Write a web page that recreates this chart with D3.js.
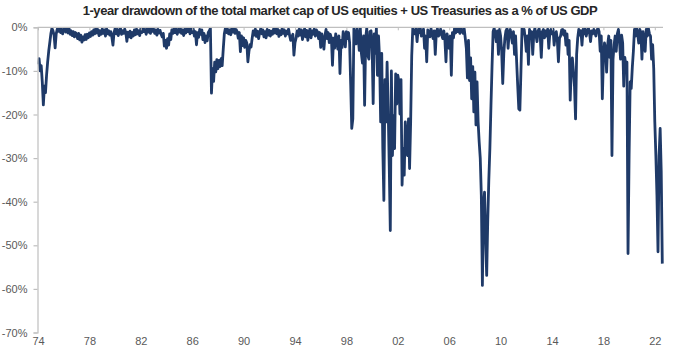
<!DOCTYPE html>
<html>
<head>
<meta charset="utf-8">
<script src="https://cdn.jsdelivr.net/npm/d3@7"></script>
<style>
  html, body { margin: 0; padding: 0; background: #ffffff; }
  svg { display: block; }
</style>
</head>
<body>
<svg id="chart" width="681" height="357"></svg>
<script>
// ---- Data ----
const title = "1-year drawdown of the total market cap of US equities + US Treasuries as a % of US GDP";

const yTickValues = [0, -10, -20, -30, -40, -50, -60, -70];
const xTickYears = [1974, 1978, 1982, 1986, 1990, 1994, 1998, 2002, 2006, 2010, 2014, 2018, 2022];
const xTickLabels = ["74", "78", "82", "86", "90", "94", "98", "02", "06", "10", "14", "18", "22"];

// monthly series, starting January 1974
const startYear = 1974;
const drawdown = [
  /*1974*/ -8.5, -7.2, -10.0, -8.8, -12.5, -17.8, -13.5, -15.0, -11.0, -8.0, -5.5, -3.5,
  /*1975*/ -1.5, -0.2, -0.8, -1.8, -4.7, -1.5, -0.4, -0.9, -0.2, -1.2, -0.4, -1.5,
  /*1976*/ -0.5, -0.2, -1.1, -0.4, -1.3, -0.3, -1.6, -0.8, -1.9, -1.0, -2.2, -1.2,
  /*1977*/ -1.5, -2.6, -1.4, -2.9, -1.8, -3.4, -2.2, -2.9, -1.7, -2.8, -1.6, -2.4,
  /*1978*/ -1.3, -2.1, -1.0, -1.8, -0.6, -1.5, -0.2, -1.3, -0.5, -1.9, -0.8, -1.6,
  /*1979*/ -0.4, -1.4, -0.6, -2.0, -0.3, -1.5, -0.8, -1.8, -1.0, -2.3, -4.1, -1.2,
  /*1980*/ -0.3, -1.5, -0.5, -1.9, -0.7, -0.2, -1.6, -0.8, -1.4, -0.4, -1.2, -3.2,
  /*1981*/ -1.1, -2.2, -0.9, -2.4, -1.2, -2.0, -0.6, -1.7, -0.4, -1.5, -0.8, -1.9,
  /*1982*/ -0.3, -1.2, -0.2, -1.0, -0.5, -1.6, -0.3, -1.1, -0.4, -1.4, -0.2, -0.9,
  /*1983*/ -0.4, -1.4, -0.6, -1.8, -0.5, -1.3, -0.7, -1.6, -2.2, -1.4, -4.3, -3.0,
  /*1984*/ -4.8, -2.6, -4.1, -1.5, -2.8, -0.6, -1.4, -0.3, -1.2, -0.4, -1.6, -0.5,
  /*1985*/ -1.1, -0.3, -1.4, -0.6, -1.9, -0.5, -1.3, -0.2, -1.0, -0.4, -1.5, -0.3,
  /*1986*/ -1.2, -0.4, -2.0, -1.0, -4.0, -1.2, -2.3, -0.5, -1.6, -0.6, -2.8, -1.4,
  /*1987*/ -3.5, -2.0, -3.1, -1.2, -0.8, -0.2, -15.1, -9.5, -12.4, -8.0, -10.2, -7.4,
  /*1988*/ -9.5, -7.6, -9.0, -7.2, -8.8, -5.0, -1.5, -0.2, -1.2, -0.4, -1.5, -0.6,
  /*1989*/ -1.7, -0.3, -1.1, -0.2, -1.4, -0.5, -1.0, -2.5, -1.2, -5.6, -2.0, -4.2,
  /*1990*/ -2.4, -4.6, -3.0, -3.6, -7.9, -5.5, -4.0, -4.5, -2.5, -0.8, -1.8, -0.4,
  /*1991*/ -2.1, -0.9, -2.6, -1.2, -0.3, -1.5, -0.6, -2.2, -1.0, -2.4, -0.5, -1.8,
  /*1992*/ -0.7, -2.0, -0.9, -1.6, -0.4, -1.3, -0.3, -1.5, -0.5, -2.1, -0.8, -1.7,
  /*1993*/ -0.3, -1.4, -0.6, -2.0, -0.9, -1.5, -0.4, -1.9, -3.0, -2.2, -1.6, -6.4,
  /*1994*/ -3.5, -2.5, -0.8, -2.0, -0.4, -1.8, -0.6, -2.8, -1.3, -0.3, -2.2, -0.7,
  /*1995*/ -3.0, -1.2, -0.3, -2.4, -0.8, -1.6, -0.4, -2.0, -0.6, -1.0, -2.6, -1.2,
  /*1996*/ -4.6, -1.5, -3.0, -5.0, -1.8, -0.5, -2.6, -1.2, -3.5, -1.6, -2.5, -8.7,
  /*1997*/ -2.5, -4.8, -1.5, -3.0, -5.0, -2.0, -10.6, -3.0, -4.6, -1.0, -2.2, -4.5,
  /*1998*/ -1.0, -2.6, -1.2, -3.5, -13.0, -23.2, -21.0, -0.3, -1.5, -3.8, -0.3, -2.0,
  /*1999*/ -5.3, -0.2, -6.0, -8.2, -2.0, -17.9, -2.5, -0.2, -6.5, -7.3, -1.0, -0.8,
  /*2000*/ -4.0, -17.5, -1.5, -6.0, -0.2, -11.0, -2.0, -7.3, -21.7, -6.0, -27.8, -39.7,
  /*2001*/ -12.0, -21.7, -8.0, -18.6, -31.7, -46.6, -10.0, -29.4, -20.3, -27.8, -10.7, -17.6,
  /*2002*/ -11.0, -12.4, -19.9, -12.0, -36.2, -27.8, -33.9, -21.7, -26.0, -29.4, -21.0, -32.4,
  /*2003*/ -21.7, -6.6, -0.2, -1.0, -1.5, -0.4, -3.3, -0.5, -1.2, -0.2, -2.0, -1.5,
  /*2004*/ -0.4, -4.8, -2.0, -7.9, -0.6, -1.2, -2.2, -0.3, -1.4, -2.6, -0.8, -6.2,
  /*2005*/ -1.0, -0.3, -2.0, -1.5, -0.4, -1.8, -2.6, -0.8, -3.0, -7.9, -1.5, -3.0,
  /*2006*/ -4.8, -2.0, -11.0, -1.2, -2.4, -0.2, -1.3, -0.3, -1.0, -0.2, -1.4, -0.4,
  /*2007*/ -0.5, -1.4, -0.3, -2.5, -4.8, -11.6, -3.0, -12.2, -7.0, -16.4, -9.0, -19.4,
  /*2008*/ -10.3, -22.4, -12.5, -21.7, -26.3, -30.0, -38.5, -59.2, -41.0, -37.8, -48.4, -56.9,
  /*2009*/ -44.3, -35.0, -27.7, -18.0, -9.0, -1.0, -0.2, -1.5, -3.3, -0.8, -6.2, -0.5,
  /*2010*/ -2.0, -5.5, -12.9, -6.0, -2.5, -0.8, -0.3, -4.8, -1.2, -0.5, -2.0, -3.6,
  /*2011*/ -1.0, -6.2, -2.0, -8.0, -13.5, -18.7, -19.0, -10.0, -0.3, -1.5, -0.5, -2.6,
  /*2012*/ -5.5, -2.0, -8.5, -0.5, -2.5, -1.0, -6.2, -1.5, -0.2, -1.8, -3.3, -0.8,
  /*2013*/ -0.3, -2.0, -6.9, -1.0, -0.5, -2.4, -0.8, -2.0, -0.4, -4.8, -1.2, -0.5,
  /*2014*/ -1.5, -0.4, -4.1, -1.8, -1.0, -3.0, -7.9, -2.5, -2.0, -0.6, -0.5, -1.8,
  /*2015*/ -0.8, -4.1, -1.5, -6.2, -3.0, -16.7, -9.5, -7.0, -10.0, -13.5, -21.0, -6.2,
  /*2016*/ -2.5, -0.5, -1.8, -0.8, -4.1, -0.5, -1.5, -0.4, -2.0, -0.8, -0.2, -1.2,
  /*2017*/ -3.3, -0.8, -1.5, -0.5, -1.2, -2.0, -0.6, -0.2, -1.0, -5.5, -2.0, -16.4,
  /*2018*/ -7.3, -3.6, -5.0, -10.3, -4.0, -2.0, -6.9, -3.0, -29.4, -7.3, -4.0, -2.0,
  /*2019*/ -5.5, -1.5, -0.5, -3.0, -7.3, -1.8, -3.6, -13.5, -6.9, -9.0, -8.0, -51.9,
  /*2020*/ -29.4, -12.5, -14.0, -9.2, -5.5, -0.5, -2.0, -0.2, -1.5, -3.6, -0.5, -1.2,
  /*2021*/ -7.3, -1.0, -3.0, -5.5, -0.5, -2.0, -0.2, -1.5, -2.0, -7.3, -4.0, -9.5,
  /*2022*/ -21.7, -29.4, -38.5, -51.5, -29.4, -23.2, -33.0, -54.2
];

// ---- Chart ----
const svg = d3.select("#chart");
const plotLeft = 37.5, plotRight = 663, plotTop = 27.3, plotBottom = 332.5;

const x = d3.scaleLinear().domain([1974, 2022]).range([38, 654.8]);
const y = d3.scaleLinear().domain([0, -70]).range([plotTop, plotBottom]);

const data = drawdown.map((v, i) => ({ t: startYear + i / 12, v: v }));

// title
svg.append("text")
  .attr("x", 340)
  .attr("y", 15)
  .attr("text-anchor", "middle")
  .attr("font-family", "Liberation Sans, Arial, sans-serif")
  .attr("font-weight", "bold")
  .attr("font-size", 13)
  .attr("letter-spacing", -0.45)
  .attr("fill", "#262626")
  .text(title);

// clip for plot area (data cannot rise above the 0% line)
svg.append("defs").append("clipPath").attr("id", "plotclip")
  .append("rect")
  .attr("x", plotLeft).attr("y", plotTop)
  .attr("width", plotRight - plotLeft + 5).attr("height", plotBottom - plotTop + 5);

// data line
const line = d3.line()
  .x(d => x(d.t))
  .y(d => y(d.v))
  .curve(d3.curveLinear);

svg.append("path")
  .datum(data)
  .attr("clip-path", "url(#plotclip)")
  .attr("fill", "none")
  .attr("stroke", "#1f3a68")
  .attr("stroke-width", 2.8)
  .attr("stroke-linejoin", "round")
  .attr("d", line);

// y axis (left)
const yAxis = d3.axisLeft(y)
  .tickValues(yTickValues)
  .tickSize(4)
  .tickPadding(6)
  .tickFormat(d => d + "%");

const gy = svg.append("g")
  .attr("transform", `translate(${plotLeft},0)`)
  .call(yAxis);
gy.select(".domain").attr("stroke", "#bfbfbf").attr("stroke-width", 1.2);
gy.selectAll(".tick line").attr("stroke", "#bfbfbf").attr("stroke-width", 1.2);
gy.selectAll(".tick text")
  .attr("font-family", "Liberation Sans, Arial, sans-serif")
  .attr("font-size", 11)
  .attr("fill", "#595959");

// zero line (category axis) with small ticks
const gx0 = svg.append("g")
  .attr("transform", `translate(0,${plotTop})`)
  .call(d3.axisBottom(x).tickValues(xTickYears).tickSize(3).tickFormat(""));
gx0.select(".domain").remove();
gx0.selectAll(".tick line").attr("stroke", "#bfbfbf").attr("stroke-width", 1);
gx0.append("line")
  .attr("x1", plotLeft).attr("x2", plotRight)
  .attr("y1", 0).attr("y2", 0)
  .attr("stroke", "#bfbfbf")
  .attr("stroke-width", 1.2);

// x labels at the bottom
const gx = svg.append("g")
  .attr("transform", `translate(0,${plotBottom})`)
  .call(d3.axisBottom(x).tickValues(xTickYears).tickSize(0).tickPadding(5)
    .tickFormat((d, i) => xTickLabels[i]));
gx.select(".domain").remove();
gx.selectAll(".tick text")
  .attr("font-family", "Liberation Sans, Arial, sans-serif")
  .attr("font-size", 11)
  .attr("fill", "#595959");
</script>
</body>
</html>
